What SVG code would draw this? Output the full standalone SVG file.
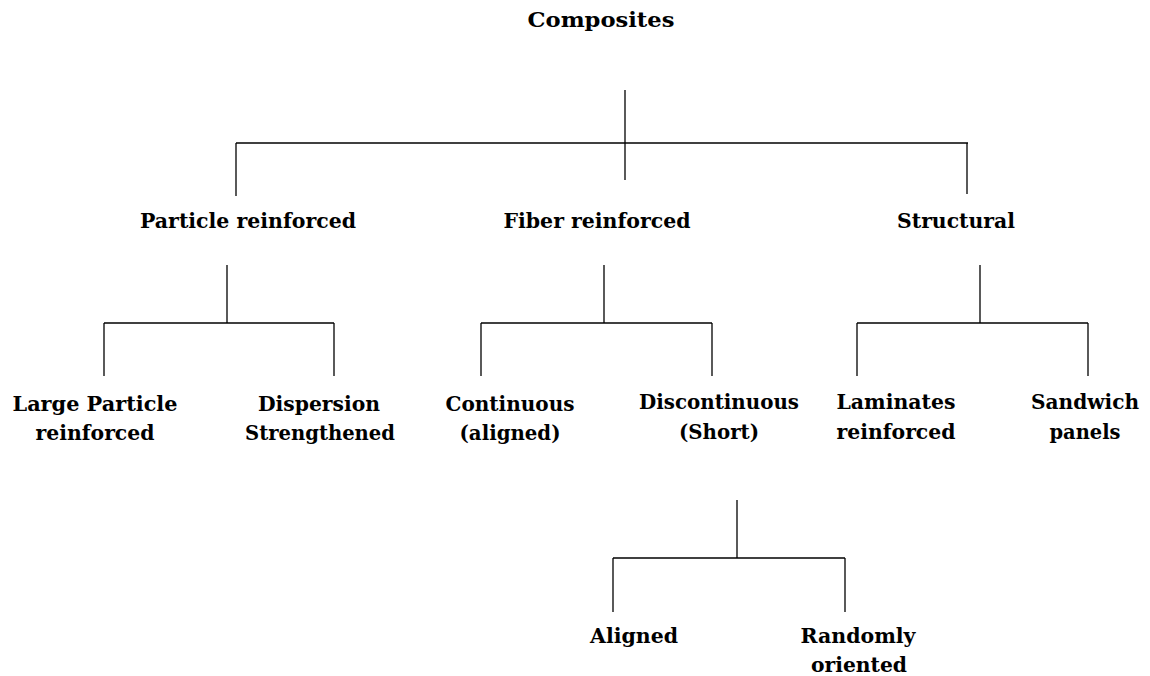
<svg xmlns="http://www.w3.org/2000/svg" width="1150" height="676" viewBox="0 0 1150 676">
<style>
text{font-family:"DejaVu Serif","Liberation Serif",serif;font-weight:bold;font-size:21px;fill:#000;text-anchor:middle}
.c line{stroke:#000;stroke-width:1.3}
</style>
<rect width="1150" height="676" fill="#fff"/>
<g class="c" id="connectors">
<line x1="625" y1="90" x2="625" y2="180"/>
<line x1="236" y1="143" x2="968" y2="143"/>
<line x1="236" y1="143" x2="236" y2="196"/>
<line x1="967" y1="143" x2="967" y2="194"/>
<line x1="227" y1="265" x2="227" y2="323"/>
<line x1="104" y1="323" x2="334" y2="323"/>
<line x1="104" y1="323" x2="104" y2="376"/>
<line x1="334" y1="323" x2="334" y2="376"/>
<line x1="604" y1="265" x2="604" y2="323"/>
<line x1="481" y1="323" x2="712" y2="323"/>
<line x1="481" y1="323" x2="481" y2="376"/>
<line x1="712" y1="323" x2="712" y2="376"/>
<line x1="980" y1="265" x2="980" y2="323"/>
<line x1="857" y1="323" x2="1088" y2="323"/>
<line x1="857" y1="323" x2="857" y2="376"/>
<line x1="1088" y1="323" x2="1088" y2="376"/>
<line x1="737" y1="500" x2="737" y2="558"/>
<line x1="613" y1="558" x2="845" y2="558"/>
<line x1="613" y1="558" x2="613" y2="612"/>
<line x1="845" y1="558" x2="845" y2="612"/>
</g>
<g id="composites"><text x="601" y="27" textLength="147" lengthAdjust="spacingAndGlyphs">Composites</text></g>
<g id="particle"><text x="248" y="228" textLength="216" lengthAdjust="spacingAndGlyphs">Particle reinforced</text></g>
<g id="fiber"><text x="597" y="228" textLength="187" lengthAdjust="spacingAndGlyphs">Fiber reinforced</text></g>
<g id="structural"><text x="956" y="228" textLength="118" lengthAdjust="spacingAndGlyphs">Structural</text></g>
<g id="large"><text x="95" y="411" textLength="165" lengthAdjust="spacingAndGlyphs">Large Particle</text><text x="95" y="440" textLength="119" lengthAdjust="spacingAndGlyphs">reinforced</text></g>
<g id="dispersion"><text x="319" y="411" textLength="122" lengthAdjust="spacingAndGlyphs">Dispersion</text><text x="320" y="440" textLength="150" lengthAdjust="spacingAndGlyphs">Strengthened</text></g>
<g id="continuous"><text x="510" y="411" textLength="129" lengthAdjust="spacingAndGlyphs">Continuous</text><text x="510" y="440" textLength="101" lengthAdjust="spacingAndGlyphs">(aligned)</text></g>
<g id="discontinuous"><text x="719" y="409" textLength="160" lengthAdjust="spacingAndGlyphs">Discontinuous</text><text x="719" y="439" textLength="80" lengthAdjust="spacingAndGlyphs">(Short)</text></g>
<g id="laminates"><text x="896" y="409" textLength="119" lengthAdjust="spacingAndGlyphs">Laminates</text><text x="896" y="439" textLength="119" lengthAdjust="spacingAndGlyphs">reinforced</text></g>
<g id="sandwich"><text x="1085" y="409" textLength="108" lengthAdjust="spacingAndGlyphs">Sandwich</text><text x="1085" y="439" textLength="71" lengthAdjust="spacingAndGlyphs">panels</text></g>
<g id="aligned"><text x="634" y="643" textLength="88" lengthAdjust="spacingAndGlyphs">Aligned</text></g>
<g id="randomly"><text x="858" y="643" textLength="115" lengthAdjust="spacingAndGlyphs">Randomly</text><text x="859" y="672" textLength="96" lengthAdjust="spacingAndGlyphs">oriented</text></g>
</svg>
